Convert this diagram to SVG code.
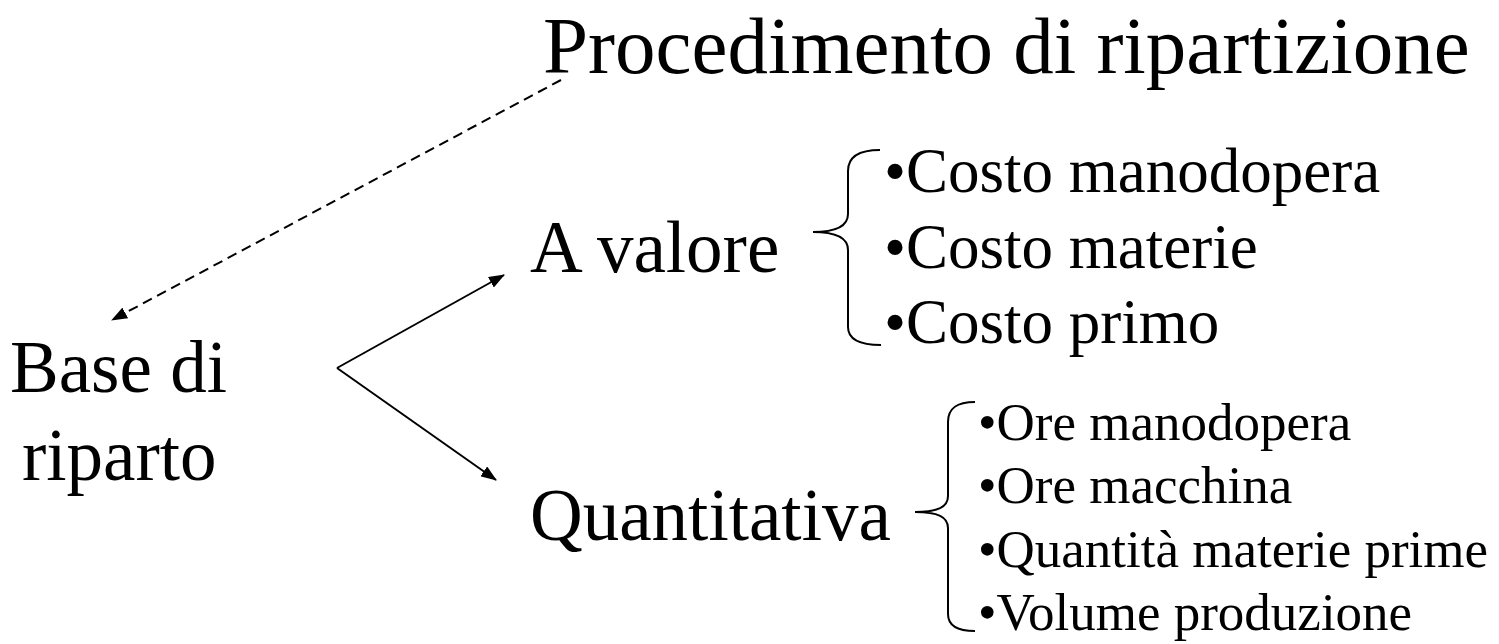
<svg xmlns="http://www.w3.org/2000/svg" width="1499" height="644" viewBox="0 0 1499 644">
<style>
text{font-family:"Liberation Serif","Times New Roman",serif;fill:#000}
.big{font-size:73px}
.title{font-size:81px}
.l1{font-size:63px}
.l2{font-size:53px}
.ln{fill:none;stroke:#000;stroke-width:2}
.dash{stroke-dasharray:10 6}
</style>
<defs>
<marker id="ah" markerWidth="16" markerHeight="12" refX="15" refY="6" orient="auto" markerUnits="userSpaceOnUse">
<path d="M0,0 L16,6 L0,12 Z" fill="#000"/>
</marker>
</defs>
<rect width="1499" height="644" fill="#fff"/>
<g id="title"><text class="title" x="543" y="73">Procedimento di ripartizione</text></g>
<g id="base"><text class="big" x="10" y="392">Base di</text><text class="big" x="22" y="480">riparto</text></g>
<g id="valore"><text class="big" x="530" y="272">A valore</text></g>
<g id="quant"><text class="big" x="530" y="540">Quantitativa</text></g>
<g id="list1">
<path class="ln" d="M880,150 C859,150 848,157 848,171 L848,214 C848,226 836,232 813,232 C836,232 848,238 848,250 L848,327 C848,340 860,345 881,345"/>
<text class="l1" x="884" y="192">•Costo manodopera</text>
<text class="l1" x="884" y="268">•Costo materie</text>
<text class="l1" x="884" y="343">•Costo primo</text>
</g>
<g id="list2">
<path class="ln" d="M975,402 C957,402 948,408 948,422 L948,496 C948,507 938,512 915,512 C938,512 948,517 948,528 L948,614 C948,626 957,631 975,631"/>
<text class="l2" x="978" y="440">•Ore manodopera</text>
<text class="l2" x="978" y="503">•Ore macchina</text>
<text class="l2" x="978" y="567">•Quantità materie prime</text>
<text class="l2" x="978" y="630">•Volume produzione</text>
</g>
<g id="connectors">
<path class="ln dash" d="M561,80 L112,320" marker-end="url(#ah)"/>
<path class="ln" d="M337,368 L504,275" marker-end="url(#ah)"/>
<path class="ln" d="M337,368 L496,480" marker-end="url(#ah)"/>
</g>
</svg>
